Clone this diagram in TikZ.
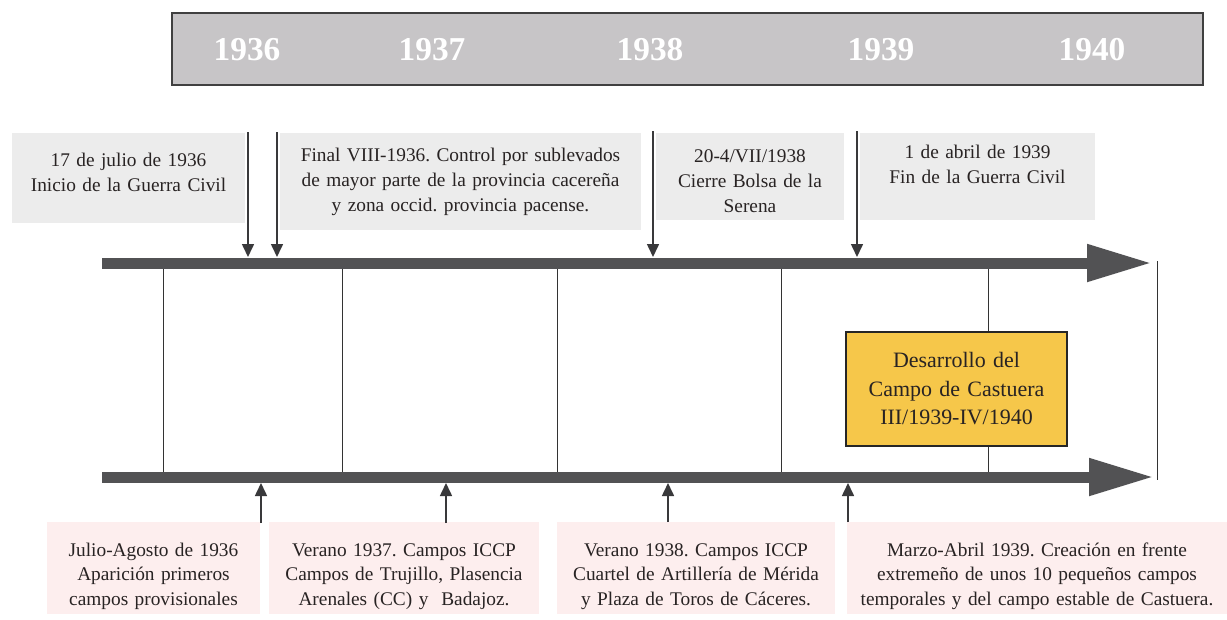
\documentclass[tikz,border=0pt]{standalone}
\usepackage{fontspec}
\setmainfont{Liberation Serif}
\usetikzlibrary{arrows.meta}
\frenchspacing

\definecolor{bandgray}{RGB}{199,197,199}
\definecolor{evgray}{RGB}{236,236,236}
\definecolor{camppink}{RGB}{253,238,238}
\definecolor{bargray}{RGB}{82,82,84}
\definecolor{castyellow}{RGB}{246,199,74}
\definecolor{inkcol}{RGB}{40,35,35}

\tikzset{
	event/.style={fill=evgray, inner sep=0pt, align=center, text=inkcol, font=\fontsize{11}{14.2}\selectfont},
	camp/.style={fill=camppink, inner sep=0pt, align=center, text=inkcol, font=\fontsize{11}{14}\selectfont},
	year/.style={text=white, font=\fontsize{19}{19}\selectfont\bfseries},
	timebar/.style={draw=bargray, line width=0.22cm, -{Triangle[length=1.3cm,width=0.7cm]}},
	pointer/.style={draw=bargray!70!black, line width=0.9pt, -{Triangle[length=0.26cm,width=0.24cm]}},
	divider/.style={draw=black!80, line width=0.5pt}
}

\begin{document}
\begin{tikzpicture}[x=0.02cm, y=-0.02cm]
	\useasboundingbox (0,0) rectangle (1227,619);
	% Years band:
	\node[draw=black!75, line width=1pt, fill=bandgray, minimum width=20.62cm, minimum height=1.44cm, inner sep=0pt] (band) at (687.5,49){};
	\node[year] (y1936) at (247,50){1936};
	\node[year] (y1937) at (432,50){1937};
	\node[year] (y1938) at (650,50){1938};
	\node[year] (y1939) at (881,50){1939};
	\node[year] (y1940) at (1092,50){1940};
	% Events above:
	\node[event, text width=4.66cm, minimum height=1.8cm] (ev1) at (128.5,178){17 de julio de 1936\\Inicio de la Guerra Civil\rule[-6pt]{0pt}{1pt}};
	\node[event, text width=7.22cm, minimum height=1.94cm] (ev2) at (460.5,181.5){Final VIII-1936. Control por sublevados\\de mayor parte de la provincia cacereña\\y zona occid. provincia pacense.};
	\node[event, text width=3.76cm, minimum height=1.74cm] (ev3) at (750,176.5){\rule{0pt}{13pt}20-4/VII/1938\\Cierre Bolsa de la\\Serena};
	\node[event, text width=4.7cm, minimum height=1.74cm] (ev4) at (977.5,176.5){1 de abril de 1939\\Fin de la Guerra Civil\rule[-14pt]{0pt}{1pt}};
	% Camps below:
	\node[camp, text width=4.26cm, minimum height=1.84cm] (camp1) at (153.5,568){\rule{0pt}{17pt}Julio-Agosto de 1936\\Aparición primeros\\campos provisionales};
	\node[camp, text width=5.4cm, minimum height=1.84cm] (camp2) at (404,568){\rule{0pt}{17pt}Verano 1937. Campos ICCP\\Campos de Trujillo, Plasencia\\Arenales (CC) y \ Badajoz.};
	\node[camp, text width=5.56cm, minimum height=1.84cm] (camp3) at (696,568){\rule{0pt}{17pt}Verano 1938. Campos ICCP\\Cuartel de Artillería de Mérida\\y Plaza de Toros de Cáceres.};
	\node[camp, text width=7.6cm, minimum height=1.84cm] (camp4) at (1037,568){\rule{0pt}{17pt}Marzo-Abril 1939. Creación en frente\\extremeño de unos 10 pequeños campos\\temporales y del campo estable de Castuera.};
	% Dividers between the bars:
	\foreach \x in {163,342,557,781,988}
		\draw[divider] (\x,263) -- (\x,477);
	\draw[divider] (1157,261) -- (1157,480);
	\node[draw=black!85, line width=0.8pt, fill=castyellow, text width=4.42cm, minimum height=2.28cm, inner sep=0pt, align=center, text=inkcol, font=\fontsize{12.5}{16.2}\selectfont] (castuera) at (956.5,389){Desarrollo del\\Campo de Castuera\\III/1939-IV/1940};
	% Time bars:
	\coordinate (topstart) at (102,263);
	\coordinate (topend) at (1152,263);
	\coordinate (botstart) at (102,477);
	\coordinate (botend) at (1154,477);
	\draw[timebar] (topstart) -- (topend);
	\draw[timebar] (botstart) -- (botend);
	% Pointers:
	\coordinate (topedge) at (0,257);
	\coordinate (botedge) at (0,483);
	\coordinate (p1) at (248,132);
	\coordinate (p2) at (277,132);
	\coordinate (p3) at (653,131);
	\coordinate (p4) at (857,131);
	\coordinate (q1) at (261,523);
	\coordinate (q2) at (446,523);
	\coordinate (q3) at (668,522);
	\coordinate (q4) at (848,522);
	\draw[pointer] (p1) -- (p1 |- topedge);
	\draw[pointer] (p2) -- (p2 |- topedge);
	\draw[pointer] (p3) -- (p3 |- topedge);
	\draw[pointer] (p4) -- (p4 |- topedge);
	\draw[pointer] (q1) -- (q1 |- botedge);
	\draw[pointer] (q2) -- (q2 |- botedge);
	\draw[pointer] (q3) -- (q3 |- botedge);
	\draw[pointer] (q4) -- (q4 |- botedge);
\end{tikzpicture}
\end{document}
